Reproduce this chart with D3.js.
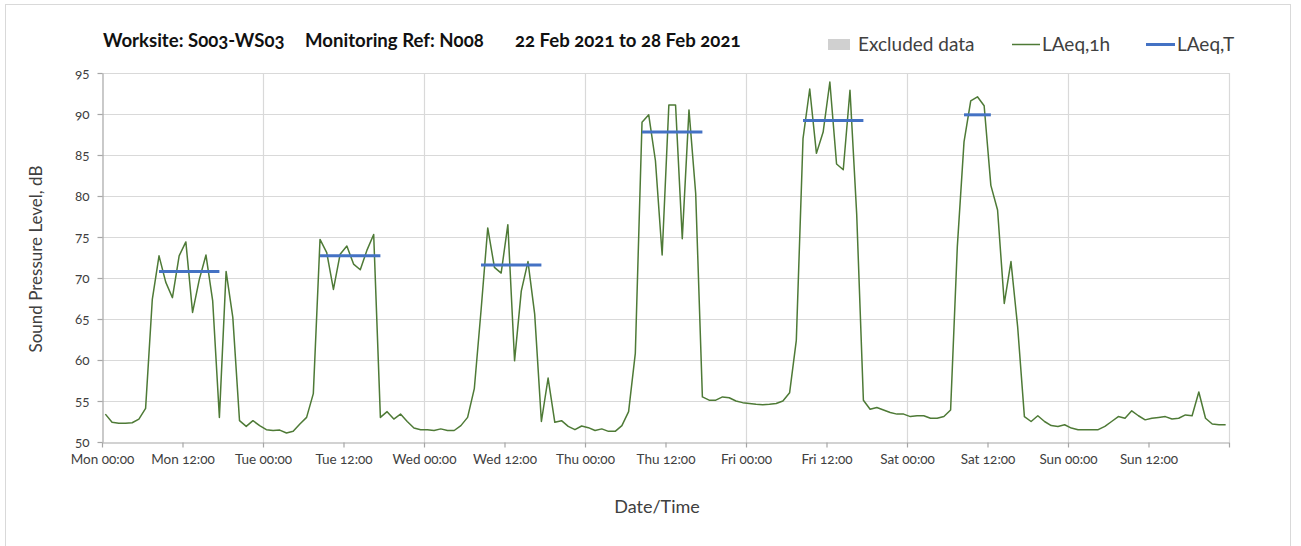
<!DOCTYPE html>
<html>
<head>
<meta charset="utf-8">
<script src="https://cdn.jsdelivr.net/npm/d3@7"></script>
<style>
  html, body { margin: 0; padding: 0; background: #fff; }
  svg { display: block; font-family: Lato, "Noto Sans", sans-serif; font-feature-settings: "onum" 1; }
</style>
</head>
<body>
<svg id="chart" width="1301" height="546"></svg>
<script>
// ---------------- DATA ----------------
const startTime = new Date(2021, 1, 22, 0, 0); // Mon 22 Feb 2021 00:00
const titleParts = ["Worksite: S003-WS03", "Monitoring Ref: N008", "22 Feb 2021 to 28 Feb 2021"];
const legendLabels = ["Excluded data", "LAeq,1h", "LAeq,T"];
const yTicks = [50, 55, 60, 65, 70, 75, 80, 85, 90, 95];
const xTickLabels = ["Mon 00:00", "Mon 12:00", "Tue 00:00", "Tue 12:00", "Wed 00:00", "Wed 12:00",
  "Thu 00:00", "Thu 12:00", "Fri 00:00", "Fri 12:00", "Sat 00:00", "Sat 12:00", "Sun 00:00", "Sun 12:00"];

// LAeq,1h hourly values (Mon 00:00 .. Sun 23:00)
const laeq1hMon = [53.4, 52.4, 52.3, 52.3, 52.35, 52.8, 54.1, 67.4, 72.7, 69.5, 67.6, 72.7, 74.4, 65.8, 69.8, 72.8, 67.2, 53.0, 70.8, 65.2, 52.6, 51.9, 52.6, 52.0];
const laeq1hTue = [51.5, 51.4, 51.45, 51.1, 51.3, 52.2, 53.0, 55.9, 74.7, 73.1, 68.6, 72.9, 73.9, 71.7, 71.0, 73.4, 75.3, 53.0, 53.7, 52.8, 53.4, 52.5, 51.7, 51.5];
const laeq1hWed = [51.5, 51.4, 51.6, 51.4, 51.4, 52.0, 53.0, 56.5, 66.0, 76.1, 71.3, 70.6, 76.5, 59.9, 68.4, 72.0, 65.6, 52.5, 57.8, 52.4, 52.6, 51.9, 51.5, 51.95];
const laeq1hThu = [51.75, 51.4, 51.6, 51.3, 51.3, 52.0, 53.7, 60.8, 89.0, 89.9, 84.3, 72.8, 91.1, 91.1, 74.8, 90.5, 80.3, 55.5, 55.1, 55.1, 55.5, 55.4, 55.0, 54.8];
const laeq1hFri = [54.7, 54.6, 54.55, 54.6, 54.7, 55.0, 56.0, 62.4, 87.0, 93.05, 85.2, 87.8, 93.9, 83.9, 83.2, 92.9, 77.8, 55.1, 54.0, 54.2, 53.9, 53.6, 53.4, 53.4];
const laeq1hSat = [53.1, 53.2, 53.2, 52.9, 52.9, 53.1, 53.9, 73.8, 86.6, 91.6, 92.1, 91.0, 81.3, 78.3, 66.9, 72.0, 64.0, 53.1, 52.5, 53.2, 52.5, 52.0, 51.9, 52.1];
const laeq1hSun = [51.7, 51.5, 51.5, 51.5, 51.5, 51.9, 52.5, 53.1, 52.9, 53.8, 53.2, 52.7, 52.9, 53.0, 53.1, 52.8, 52.9, 53.3, 53.2, 56.1, 52.9, 52.2, 52.1, 52.1];

// LAeq,T periods (first and last hour index of each period, and level)
const periodStartHour = [8, 32, 56, 80, 104, 128];
const periodEndHour = [17, 41, 65, 89, 113, 132];
const periodValues = [70.8, 72.7, 71.6, 87.8, 89.2, 89.9];

// ---------------- BUILD ----------------
const HOUR = 3600 * 1000;
const hourly = [].concat(laeq1hMon, laeq1hTue, laeq1hWed, laeq1hThu, laeq1hFri, laeq1hSat, laeq1hSun)
  .map((v, i) => ({ t: new Date(+startTime + (i + 0.5) * HOUR), v }));
const periods = periodValues.map((v, k) => ({
  t0: new Date(+startTime + (periodStartHour[k] + 0.5) * HOUR),
  t1: new Date(+startTime + (periodEndHour[k] + 0.5) * HOUR),
  v
}));

const svg = d3.select("#chart");
const plot = { left: 102, right: 1229, top: 73, bottom: 442 };

const x = d3.scaleTime().domain([startTime, new Date(+startTime + 168 * HOUR)]).range([plot.left, plot.right]);
const y = d3.scaleLinear().domain([50, 95]).range([plot.bottom, plot.top]);

// outer border
svg.append("rect").attr("x", 5.5).attr("y", 4.5).attr("width", 1285).attr("height", 600)
  .attr("fill", "#fff").attr("stroke", "#d9d9d9").attr("stroke-width", 1);

// gridlines
const gridY = yTicks.filter(d => d > 50);
svg.append("g").selectAll("line").data(gridY).join("line")
  .attr("x1", plot.left).attr("x2", plot.right)
  .attr("y1", d => Math.round(y(d)) + 0.5).attr("y2", d => Math.round(y(d)) + 0.5)
  .attr("stroke", "#d9d9d9").attr("stroke-width", 1.2);
const dayTicks = d3.range(1, 8).map(d => new Date(+startTime + d * 24 * HOUR));
svg.append("g").selectAll("line").data(dayTicks).join("line")
  .attr("x1", d => Math.round(x(d)) + 0.5).attr("x2", d => Math.round(x(d)) + 0.5)
  .attr("y1", plot.top).attr("y2", plot.bottom)
  .attr("stroke", "#d9d9d9").attr("stroke-width", 1.2);

// axes
const xTickValues = xTickLabels.map((_, i) => new Date(+startTime + i * 12 * HOUR)).concat([new Date(+startTime + 168 * HOUR)]);
const xAxis = svg.append("g").attr("transform", `translate(0,${plot.bottom + 0.5})`)
  .call(d3.axisBottom(x).tickValues(xTickValues).tickSize(5).tickSizeOuter(0)
    .tickFormat((d, i) => xTickLabels[i] || ""));
const yAxis = svg.append("g").attr("transform", `translate(${plot.left + 0.5},0)`)
  .call(d3.axisLeft(y).tickValues(yTicks).tickSize(5).tickSizeOuter(0));

[xAxis, yAxis].forEach(a => {
  a.select(".domain").attr("stroke", "#a6a6a6").attr("stroke-width", 1.2);
  a.selectAll(".tick line").attr("stroke", "#a6a6a6").attr("stroke-width", 1.2);
  a.selectAll(".tick text").attr("fill", "#404040").style("font-size", "13.5px")
    .style("font-family", "Lato, 'Noto Sans', sans-serif");
});
xAxis.selectAll(".tick text").attr("dy", "1.0em");
yAxis.selectAll(".tick text").attr("x", -13);

// LAeq,1h line
svg.append("path").datum(hourly)
  .attr("d", d3.line().x(d => x(d.t)).y(d => y(d.v)))
  .attr("fill", "none").attr("stroke", "#4e7a36").attr("stroke-width", 1.5)
  .attr("stroke-linejoin", "round");

// LAeq,T lines
svg.append("g").selectAll("line").data(periods).join("line")
  .attr("x1", d => x(d.t0)).attr("x2", d => x(d.t1))
  .attr("y1", d => y(d.v)).attr("y2", d => y(d.v))
  .attr("stroke", "#4472c4").attr("stroke-width", 3);

// title
const titleX = [103, 305, 515];
svg.append("g").selectAll("text").data(titleParts).join("text")
  .attr("x", (d, i) => titleX[i]).attr("y", 47)
  .attr("fill", "#111").style("font-weight", "bold").style("font-size", "18.6px")
  .text(d => d);

// legend
const lg = svg.append("g");
lg.append("rect").attr("x", 828).attr("y", 39).attr("width", 22).attr("height", 11).attr("fill", "#d0d0d0");
lg.append("text").attr("x", 858).attr("y", 51).text(legendLabels[0]);
lg.append("line").attr("x1", 1012).attr("x2", 1040).attr("y1", 44.5).attr("y2", 44.5)
  .attr("stroke", "#4e7a36").attr("stroke-width", 1.5);
lg.append("text").attr("x", 1042).attr("y", 51).text(legendLabels[1]);
lg.append("line").attr("x1", 1146).attr("x2", 1175).attr("y1", 44.5).attr("y2", 44.5)
  .attr("stroke", "#4472c4").attr("stroke-width", 3);
lg.append("text").attr("x", 1177).attr("y", 51).text(legendLabels[2]);
lg.selectAll("text").attr("fill", "#404040").style("font-size", "19px");

// axis titles
svg.append("text").attr("transform", "translate(42,259) rotate(-90)")
  .attr("text-anchor", "middle").attr("fill", "#404040").style("font-size", "17px")
  .text("Sound Pressure Level, dB");
svg.append("text").attr("x", 657).attr("y", 513)
  .attr("text-anchor", "middle").attr("fill", "#404040").style("font-size", "18px")
  .text("Date/Time");
</script>
</body>
</html>
